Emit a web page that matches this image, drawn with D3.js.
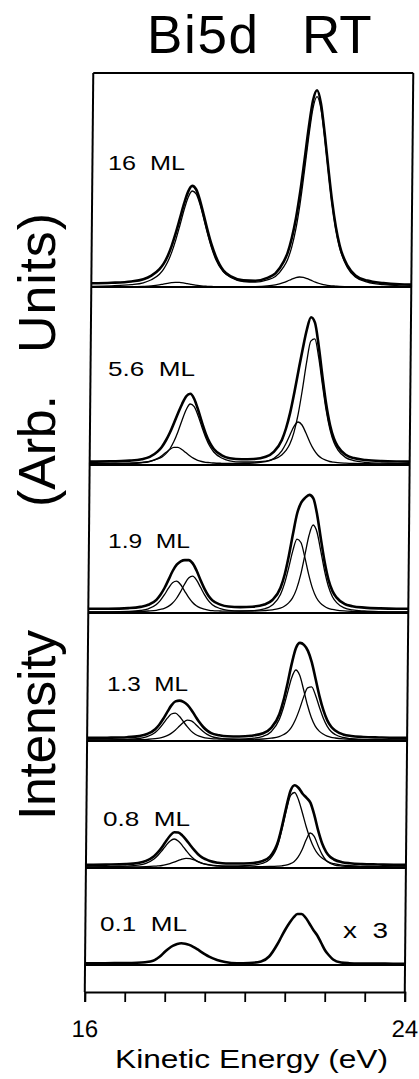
<!DOCTYPE html>
<html><head><meta charset="utf-8">
<script src="https://cdn.jsdelivr.net/npm/d3@7"></script>
<style>
html,body{margin:0;padding:0;background:#fff;}
svg{display:block;}
text{font-family:"Liberation Sans",Arial,Helvetica,sans-serif;fill:#000;}
</style></head><body>
<svg id="chart" width="419" height="1079"></svg>
<script>
// ---------------- DATA ----------------
const energies = [16.0,16.5,17.0,17.3,17.5,17.7,17.8,17.9,18.0,18.1,18.2,18.3,18.4,18.5,18.6,18.7,18.8,18.9,19.0,19.1,19.3,19.5,19.8,20.1,20.4,20.6,20.8,20.9,21.0,21.1,21.2,21.3,21.4,21.5,21.6,21.7,21.8,21.9,22.0,22.1,22.2,22.4,22.6,22.9,23.3,23.7,24.0];

const coverageLabels = ["16  ML","5.6  ML","1.9  ML","1.3  ML","0.8  ML","0.1  ML"];
const scaleNote = "x  3";

// 16 ML
const ml16Measured = [3.7,4.2,5.5,7.8,11.4,17.9,23.1,30.8,41.2,54.1,68.6,83.3,95.4,101.1,97.5,86.2,71.1,55.7,42.0,31.0,16.4,10.4,6.6,6.2,9.1,13.6,25.1,34.2,48.8,68.5,94.7,126.4,159.3,186.4,196.7,183.3,153.4,118.4,85.8,60.1,41.4,21.3,11.6,6.4,3.9,2.7,2.4];
const ml16Bulk = [0.7,1.1,2.3,4.2,7.3,12.8,17.7,24.7,34.4,46.9,61.5,76.7,89.6,96.0,93.1,82.4,67.7,52.5,39.0,28.1,15.2,9.2,5.3,4.8,7.1,10.5,19.8,27.3,39.6,57.8,83.2,115.3,149.5,178.3,190.3,178.3,149.5,115.2,83.1,57.7,39.3,19.4,9.9,4.8,2.3,1.2,0.9];
const ml16Surface = [0,0.1,0.2,0.6,1.1,2.1,2.9,3.6,4.3,4.7,4.6,4.1,3.3,2.6,1.9,1.3,0.9,0.7,0.5,0.4,0.2,0.2,0.3,0.4,1.0,2.1,4.3,5.9,7.7,9.2,10.0,9.6,8.3,6.6,4.9,3.5,2.4,1.7,1.2,0.9,0.6,0.4,0.2,0.1,0.1,0,0];

// 5.6 ML
const ml56Measured = [3.4,3.6,4.4,5.8,8.1,13.6,18.1,24.5,32.5,42.1,52.0,61.3,68.7,71.2,66.0,55.0,42.3,30.8,22.1,16.0,9.7,6.8,5.7,6.0,8.2,13.2,25.1,36.5,52.1,72.3,94.6,116.1,135.5,147.7,142.4,118.8,88.4,60.7,40.0,26.5,18.5,10.2,6.9,5.0,3.9,3.5,3.4];
const ml56Bulk = [1.3,1.4,1.9,2.6,3.6,6.0,7.9,11.1,16.0,23.4,33.3,44.8,55.3,61.0,58.4,49.3,37.8,27.1,18.7,13.0,7.0,4.2,3.0,3.0,3.8,5.8,10.0,14.3,21.0,32.7,50.6,75.1,102.6,123.9,126.1,107.8,80.6,54.8,35.5,22.7,15.2,7.4,4.4,2.7,1.8,1.4,1.3];
const ml56Interface = [1.1,1.2,1.5,2.2,3.5,6.6,9.2,12.4,15.5,17.7,17.7,15.5,12.4,9.2,6.6,4.7,3.5,2.7,2.4,2.0,1.7,1.6,1.7,2.0,3.4,6.4,14.1,21.2,30.1,38.6,43.0,40.0,31.9,22.8,15.3,10.0,6.8,4.9,3.5,2.8,2.3,1.8,1.5,1.3,1.1,1.1,1.1];

// 1.9 ML
const ml19Measured = [4.2,4.3,4.9,6.1,8.2,13.2,18.3,25.0,33.4,42.0,48.3,51.6,52.9,52.9,49.6,42.2,32.8,24.2,17.3,12.6,8.4,6.5,5.9,6.3,8.5,13.0,25.2,38.3,57.1,79.3,99.7,110.6,115.4,118.1,114.6,98.1,73.6,50.5,32.9,21.9,15.6,9.2,6.8,5.4,4.6,4.3,4.3];
const ml19Bulk = [1.1,1.1,1.3,1.6,2.0,2.7,3.6,4.7,6.6,9.7,14.5,21.1,28.7,35.0,36.8,32.9,25.7,18.4,12.4,8.3,4.4,2.7,2.0,2.0,2.4,3.1,4.8,6.7,9.9,14.9,23.9,38.1,57.6,77.5,88.0,80.8,61.7,41.7,26.2,16.3,10.7,5.1,3.1,2.0,1.4,1.2,1.2];
const ml19Interface = [1.1,1.2,1.6,2.5,4.2,8.5,12.7,18.3,24.8,30.3,31.8,28.5,22.2,15.9,10.8,7.3,5.1,3.8,2.9,2.3,2.0,1.8,1.9,2.3,4.1,7.9,18.4,29.6,45.2,62.4,73.8,70.5,55.8,38.6,24.6,15.3,9.9,6.8,4.7,3.6,2.9,2.1,1.7,1.4,1.2,1.1,1.1];

// 1.3 ML
const ml13Measured = [3.1,3.3,3.8,4.9,7.0,11.8,16.3,22.2,29.1,35.6,39.6,40.4,39.1,36.2,31.1,24.9,18.9,14.0,10.4,7.9,5.8,4.8,4.5,5.3,7.7,13.1,26.8,40.4,58.1,77.6,93.0,98.1,96.1,90.1,78.6,61.7,44.7,30.8,20.6,14.2,10.5,6.6,5.0,4.0,3.5,3.2,3.2];
const ml13Bulk = [1.0,1.1,1.2,1.4,1.7,2.3,2.9,3.8,5.3,7.6,10.8,14.7,18.6,20.9,20.2,17.1,13.1,9.4,6.6,4.6,2.8,2.0,1.6,1.7,2.0,2.8,4.4,6.2,8.8,13.4,21.0,31.4,43.6,53.1,54.1,45.8,33.8,22.8,14.7,9.5,6.5,3.5,2.3,1.6,1.3,1.1,1.1];
const ml13Interface = [1.1,1.2,1.6,2.5,4.3,8.5,12.4,17.4,22.8,27.0,27.8,24.7,19.5,14.3,9.9,6.8,4.8,3.6,2.8,2.3,2.0,1.8,1.9,2.6,4.7,9.3,21.4,33.2,48.3,63.2,71.0,65.7,51.5,36.0,23.5,14.9,9.9,7.0,4.9,3.7,3.0,2.1,1.7,1.4,1.2,1.1,1.1];

// 0.8 ML
const ml08Measured = [3.1,3.4,3.9,5.0,7.1,11.8,15.8,21.0,27.0,32.5,35.8,35.5,32.6,28.2,23.0,18.1,13.8,10.6,8.6,6.9,5.2,4.5,4.5,4.8,6.8,11.5,26.9,43.2,61.8,77.6,82.8,80.0,74.3,70.2,65.1,52.6,37.1,24.5,16.2,11.2,8.5,5.8,4.7,3.9,3.5,3.2,3.1];
const ml08Bulk = [1.0,1.1,1.1,1.2,1.4,1.8,2.1,2.5,3.3,4.4,5.8,7.4,8.9,9.7,9.3,8.1,6.4,4.9,3.7,2.8,1.9,1.4,1.3,1.2,1.3,1.5,1.9,2.2,2.8,4.1,6.3,10.9,18.3,28.2,35.0,31.6,22.3,13.6,7.8,4.8,3.2,1.9,1.4,1.2,1.1,1.0,1.0];
const ml08Interface = [1.1,1.3,1.8,2.8,4.7,9.0,12.7,17.5,22.7,27.1,29.0,27.1,22.7,17.5,12.7,9.0,6.4,4.7,3.9,3.1,2.3,2.1,2.2,2.6,4.5,9.0,24.0,40.0,58.0,72.5,75.5,68.1,55.0,41.0,29.1,20.0,13.8,9.9,7.4,5.4,4.3,2.9,2.3,1.7,1.4,1.2,1.1];

// 0.1 ML (shown x3)
const ml01Measured = [1.7,1.8,1.9,2.2,2.8,4.2,6.5,9.5,13.5,16.8,19.3,21.0,21.7,21.3,20.1,18.2,15.8,13.2,10.7,8.4,5.0,3.0,1.8,2.0,3.5,8.5,20.5,28.0,35.5,42.0,47.5,51.0,51.0,47.5,41.5,35.0,29.5,22.0,14.5,9.5,5.5,2.5,1.8,1.5,1.4,1.3,1.2];

const tickValues = [16,17,18,19,20,21,22,23,24];
const tickLabels = ["16","24"];
const titleParts = ["Bi5d","RT"];
const xTitle = "Kinetic Energy (eV)";
const yTitleParts = ["Intensity","(Arb.","Units)"];

const panels = [
  {label: coverageLabels[0], measured: ml16Measured, components: [ml16Bulk, ml16Surface]},
  {label: coverageLabels[1], measured: ml56Measured, components: [ml56Bulk, ml56Interface]},
  {label: coverageLabels[2], measured: ml19Measured, components: [ml19Bulk, ml19Interface]},
  {label: coverageLabels[3], measured: ml13Measured, components: [ml13Bulk, ml13Interface]},
  {label: coverageLabels[4], measured: ml08Measured, components: [ml08Bulk, ml08Interface]},
  {label: coverageLabels[5], measured: ml01Measured, components: []}
];

// ---------------- LAYOUT ----------------
const svg = d3.select("#chart");
const plotLeft = 89, plotRight = 409;
const panelEdges = [73, 287, 465, 613, 741, 868, 965];
const axisY = 992;
const skewK = -0.00924, skewY0 = 535;   // slight shear of the scanned original

const x = d3.scaleLinear().domain([16, 24]).range([plotLeft, plotRight]);

const plot = svg.append("g")
  .attr("transform", `matrix(1,0,${skewK},1,${-skewK*skewY0},0)`);

// frame
plot.append("line").attr("x1", plotLeft).attr("x2", plotLeft).attr("y1", panelEdges[0]).attr("y2", axisY)
  .attr("stroke","#000").attr("stroke-width",2);
plot.append("line").attr("x1", plotRight).attr("x2", plotRight).attr("y1", panelEdges[0]).attr("y2", axisY)
  .attr("stroke","#000").attr("stroke-width",2);
plot.selectAll("line.sep").data(panelEdges).enter().append("line").attr("class","sep")
  .attr("x1", plotLeft).attr("x2", plotRight).attr("y1", d=>d).attr("y2", d=>d)
  .attr("stroke","#000").attr("stroke-width",2);

// spectra
panels.forEach((p, k) => {
  const top = panelEdges[k], bottom = panelEdges[k+1];
  const y = d3.scaleLinear().domain([0, bottom - top]).range([bottom, top]);
  const line = d3.line()
    .x((d,i) => x(energies[i]))
    .y(d => y(d))
    .curve(d3.curveMonotoneX);
  plot.append("path").datum(p.measured).attr("d", line)
    .attr("fill","none").attr("stroke","#000").attr("stroke-width",2.6).attr("stroke-linejoin","round");
  p.components.forEach(c => {
    plot.append("path").datum(c).attr("d", line)
      .attr("fill","none").attr("stroke","#000").attr("stroke-width",1.3);
  });
});

// bottom axis
const axis = d3.axisBottom(x).tickValues(tickValues).tickSize(10).tickPadding(18)
  .tickFormat(d => tickLabels.includes(String(d)) ? String(d) : "");
const ax = plot.append("g").attr("transform", `translate(0,${axisY})`).call(axis);
ax.select(".domain").attr("stroke","#000").attr("stroke-width",2);
ax.selectAll(".tick line").attr("stroke","#000").attr("stroke-width",1.8);
ax.selectAll(".tick text").attr("font-size",24)
  .attr("font-family","'Liberation Sans',Arial,sans-serif").attr("fill","#000");

// coverage labels
const labelPos = [[108,170,77],[108,376,87],[108,548,82],[107,691,81],[103,826,87],[100,931,87]];
panels.forEach((p,k) => {
  svg.append("text").attr("x", labelPos[k][0]).attr("y", labelPos[k][1])
    .attr("font-size", 21).attr("textLength", labelPos[k][2]).attr("lengthAdjust","spacingAndGlyphs")
    .style("white-space","pre").text(p.label);
});
svg.append("text").attr("x",343).attr("y",938).attr("font-size",22)
  .attr("textLength",45).attr("lengthAdjust","spacingAndGlyphs").style("white-space","pre").text(scaleNote);

// title
svg.append("text").attr("x",147).attr("y",53).attr("font-size",53)
  .attr("textLength",111).attr("lengthAdjust","spacing").text(titleParts[0]);
svg.append("text").attr("x",302).attr("y",53).attr("font-size",53).text(titleParts[1]);

// x title
svg.append("text").attr("x",115).attr("y",1068).attr("font-size",26)
  .attr("textLength",273).attr("lengthAdjust","spacingAndGlyphs").text(xTitle);

// y title (rotated pieces)
const yPieces = [[55,820,190],[55,507,112],[55,353,140]];
yTitleParts.forEach((t,i) => {
  svg.append("text").attr("transform",`translate(${yPieces[i][0]},${yPieces[i][1]}) rotate(-90)`)
    .attr("font-size",52).attr("textLength",yPieces[i][2]).attr("lengthAdjust","spacing").text(t);
});
</script>
</body></html>
